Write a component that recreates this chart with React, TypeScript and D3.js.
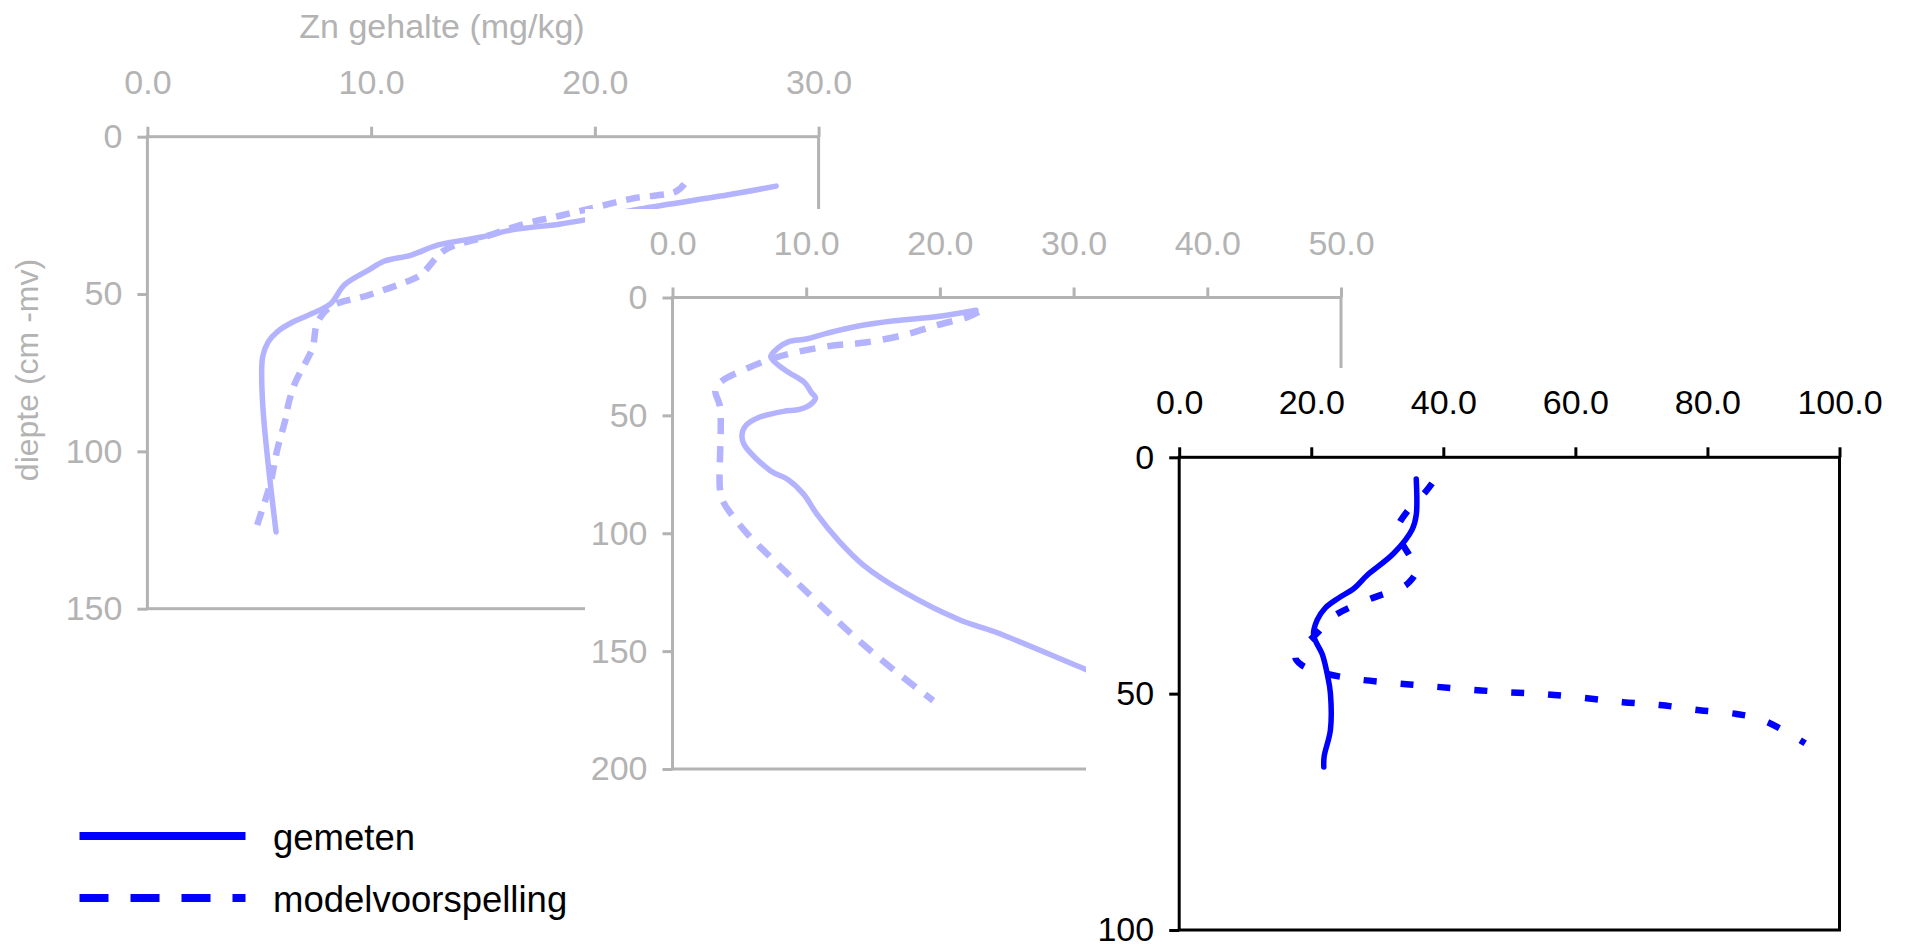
import React, { useEffect, useRef } from 'react';
import * as d3 from 'd3';

// each point: [Zn gehalte (mg/kg), diepte (cm -mv)]
const profile1Gemeten = [
  [28.1, 15.7], [26.1, 18.3], [22.0, 23.0], [19.5, 26.5], [18.4, 27.8], [16.3, 29.6],
  [15.0, 31.8], [13.0, 34.4], [11.8, 37.6], [10.6, 39.5], [9.9, 42.3], [8.8, 47.1],
  [8.2, 53.0], [7.2, 56.7], [6.5, 58.9], [5.8, 62.0], [5.4, 65.2], [5.15, 70.0],
  [5.15, 84.6], [5.75, 125.6]
];
const profile1Model = [
  [24.0, 15.0], [23.6, 17.5], [21.8, 19.5], [20.1, 22.3], [18.4, 25.2], [16.7, 28.0],
  [15.1, 31.8], [13.3, 36.0], [12.2, 44.0], [11.5, 46.3], [9.9, 50.3], [8.2, 54.0],
  [7.6, 59.0], [7.4, 66.8], [7.2, 70.0], [6.6, 78.3], [6.3, 85.0], [6.2, 89.0],
  [5.8, 99.6], [5.5, 110.0], [4.8, 125.6]
];
const profile2Gemeten = [
  [22.7, 5.4], [19.7, 8.2], [16.6, 9.9], [13.9, 12.1], [11.6, 15.1], [10.0, 17.6],
  [8.7, 18.7], [7.9, 21.4], [7.35, 25.2], [8.4, 30.7], [9.9, 36.2], [10.4, 40.4],
  [10.7, 42.5], [10.4, 45.0], [9.5, 47.5], [8.3, 48.3], [6.4, 51.0], [5.5, 54.2],
  [5.2, 58.1], [5.35, 62.3], [7.35, 73.6], [8.6, 77.1], [9.8, 83.4], [10.8, 91.9],
  [12.4, 103.0], [14.3, 113.6], [17.3, 124.9], [21.5, 136.8], [24.1, 141.8],
  [31.0, 158.0], [35.0, 167.0]
];
const profile2Model = [
  [22.9, 6.1], [22.1, 8.2], [19.8, 11.7], [17.3, 15.9], [14.4, 19.1], [12.0, 20.4],
  [9.5, 22.9], [7.6, 25.7], [5.6, 30.0], [3.5, 36.3], [3.2, 39.8], [3.55, 46.2],
  [3.55, 81.3], [3.75, 86.2], [5.5, 99.6], [7.6, 111.6], [10.3, 126.3], [12.4, 137.6],
  [14.6, 148.8], [17.0, 160.0], [19.5, 171.0]
];
const profile3Gemeten = [
  [35.9, 4.6], [35.9, 12.2], [35.3, 15.2], [32.5, 20.3], [28.5, 24.9], [26.5, 27.7],
  [24.1, 29.8], [22.1, 31.9], [20.9, 34.4], [20.35, 37.6], [21.7, 41.8], [22.5, 46.4],
  [22.9, 49.9], [22.9, 57.7], [21.95, 63.3], [21.9, 65.5]
];
const profile3Model = [
  [38.3, 5.5], [37.3, 7.3], [34.5, 11.5], [33.3, 14.0], [32.9, 15.4], [33.3, 17.1],
  [35.7, 22.8], [35.9, 24.2], [34.9, 26.3], [33.9, 27.4], [28.5, 30.2], [23.3, 33.7],
  [20.9, 37.2], [17.6, 42.3], [18.5, 43.9], [20.9, 45.3], [26.1, 46.8], [32.1, 47.7],
  [37.7, 48.4], [43.7, 49.1], [49.7, 49.7], [55.2, 50.1], [61.3, 50.9], [67.2, 51.8],
  [72.8, 52.4], [78.8, 53.5], [84.4, 54.3], [88.4, 55.6], [94.8, 60.5]
];

const xTicks1 = [0, 10, 20, 30];
const yTicks1 = [0, 50, 100, 150];
const xTicks2 = [0, 10, 20, 30, 40, 50];
const yTicks2 = [0, 50, 100, 150, 200];
const xTicks3 = [0, 20, 40, 60, 80, 100];
const yTicks3 = [0, 50, 100];

const legendLabels = ['gemeten', 'modelvoorspelling'];
const xTitle = 'Zn gehalte (mg/kg)';
const yTitle = 'diepte (cm -mv)';

const FONT = '"Liberation Sans", Arial, sans-serif';
const FADED_GRAY = '#b3b3b3';
const FADED_BLUE = '#b3b3ff';

const App = () => {
  const svgRef = useRef<SVGSVGElement>(null);

  useEffect(() => {
    const svg = d3.select(svgRef.current);
    svg.selectAll('*').remove();

    const panels = [
      {
        xDomain: [0, 30], yDomain: [0, 150], left: 147.4, right: 818.6, top: 136.7, bottom: 608.7,
        xTicks: xTicks1, yTicks: yTicks1, ink: FADED_GRAY, line: FADED_BLUE,
        gemeten: profile1Gemeten, model: profile1Model, bg: null, dash: '14,10', lw: 5.5
      },
      {
        xDomain: [0, 50], yDomain: [0, 200], left: 672.5, right: 1341, top: 297.5, bottom: 769,
        xTicks: xTicks2, yTicks: yTicks2, ink: FADED_GRAY, line: FADED_BLUE,
        gemeten: profile2Gemeten, model: profile2Model, bg: [585, 209], dash: '16,12', lw: 5.5
      },
      {
        xDomain: [0, 100], yDomain: [0, 100], left: 1179.2, right: 1839.5, top: 457.3, bottom: 930,
        xTicks: xTicks3, yTicks: yTicks3, ink: '#000000', line: '#0000ff',
        gemeten: profile3Gemeten, model: profile3Model, bg: [1086, 368], dash: '13,24', lw: 5.5
      }
    ];

    panels.forEach(p => {
      // white backdrop of a later panel hides what lies under it
      if (p.bg) {
        svg.append('rect')
          .attr('x', p.bg[0]).attr('y', p.bg[1])
          .attr('width', 1907 - p.bg[0]).attr('height', 944 - p.bg[1])
          .attr('fill', '#ffffff');
      }

      const x = d3.scaleLinear().domain(p.xDomain).range([p.left, p.right]);
      const y = d3.scaleLinear().domain(p.yDomain).range([p.top, p.bottom]);
      const g = svg.append('g');

      g.append('rect')
        .attr('x', p.left).attr('y', p.top)
        .attr('width', p.right - p.left).attr('height', p.bottom - p.top)
        .attr('fill', 'none').attr('stroke', p.ink).attr('stroke-width', 3);

      const xAxis = g.append('g')
        .attr('transform', `translate(0,${p.top})`)
        .call(d3.axisTop(x).tickValues(p.xTicks).tickFormat(d3.format('.1f')).tickSize(10).tickSizeOuter(0).tickPadding(33));
      const yAxis = g.append('g')
        .attr('transform', `translate(${p.left},0)`)
        .call(d3.axisLeft(y).tickValues(p.yTicks).tickFormat(d3.format('d')).tickSize(10).tickSizeOuter(0).tickPadding(15));

      [xAxis, yAxis].forEach(a => {
        a.select('.domain').remove();
        a.selectAll('line').attr('stroke', p.ink).attr('stroke-width', 3);
        a.selectAll('text')
          .attr('fill', p.ink)
          .style('font-family', FONT)
          .style('font-size', '34px');
      });

      const line = d3.line()
        .x(d => x(d[0]))
        .y(d => y(d[1]))
        .curve(d3.curveCatmullRom.alpha(0.5));

      g.append('path')
        .attr('d', line(p.model))
        .attr('fill', 'none')
        .attr('stroke', p.line)
        .attr('stroke-width', p.lw + 1)
        .attr('stroke-dasharray', p.dash);

      g.append('path')
        .attr('d', line(p.gemeten))
        .attr('fill', 'none')
        .attr('stroke', p.line)
        .attr('stroke-width', p.lw)
        .attr('stroke-linecap', 'round')
        .attr('stroke-linejoin', 'round');
    });

    // axis titles (first panel)
    svg.append('text')
      .attr('x', 442).attr('y', 38)
      .attr('text-anchor', 'middle')
      .attr('fill', FADED_GRAY)
      .style('font-family', FONT).style('font-size', '34px')
      .text(xTitle);

    svg.append('text')
      .attr('transform', 'translate(38,370) rotate(-90)')
      .attr('text-anchor', 'middle')
      .attr('fill', FADED_GRAY)
      .style('font-family', FONT).style('font-size', '32px')
      .text(yTitle);

    // legend
    const legend = svg.append('g');
    legendLabels.forEach((label, i) => {
      const ly = 836 + i * 62;
      legend.append('line')
        .attr('x1', 79.5).attr('x2', 245.5)
        .attr('y1', ly).attr('y2', ly)
        .attr('stroke', '#0000ff')
        .attr('stroke-width', 8)
        .attr('stroke-dasharray', i === 1 ? '29,22' : null);
      legend.append('text')
        .attr('x', 273).attr('y', ly + 14)
        .attr('fill', '#000000')
        .style('font-family', FONT).style('font-size', '36.5px')
        .text(label);
    });
  }, []);

  return (
    <svg
      ref={svgRef}
      width={1907}
      height={944}
      style={{ position: 'absolute', left: 0, top: 0, background: '#ffffff' }}
    />
  );
};

export default App;
